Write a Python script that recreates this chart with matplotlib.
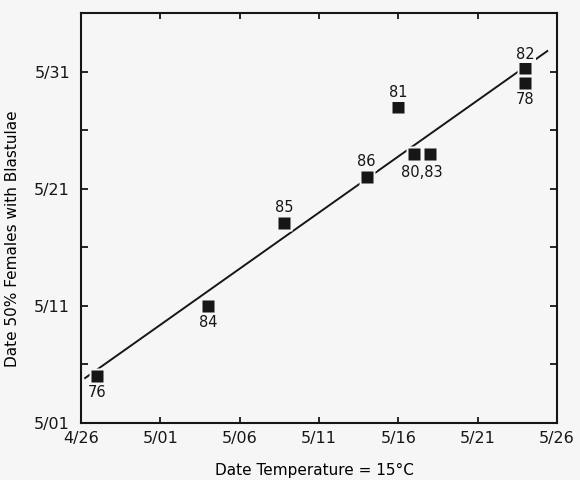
#!/usr/bin/env python

import numpy as np
import matplotlib as mpl
mpl.use('Agg')
import matplotlib.pyplot as plt

# date the water reached 15 C vs date 50% of females carried blastulae
# x: days after 4/26, y: days after 5/01
years = ['76', '84', '85', '86', '81', '80', '83', '78', '82']
temp_days = [1, 8, 12.8, 18, 20, 21, 22, 28, 28]
blast_days = [4, 10, 17.1, 21, 27, 23, 23, 29.0, 30.3]

# annotation text; "80,83" sits between the two points
point_labels = ['76', '84', '85', '86', '81', '80,83', '78', '82']

x_ticklabels = ['4/26', '5/01', '5/06', '5/11', '5/16', '5/21', '5/26']
y_ticklabels = ['5/01', '5/11', '5/21', '5/31']

# label offsets in points (placement only)
label_offsets = {'76': -12, '84': -12, '85': 11, '86': 11, '81': 10,
                 '80,83': -14, '78': -12, '82': 10}

BG = '#f6f6f6'
INK = '#161616'


def load_style():
    mpl.rc('font', family='DejaVu Sans', size=11.5)
    mpl.rc('axes', linewidth=1.5, edgecolor=INK, facecolor=BG)
    mpl.rc('figure', facecolor=BG)
    mpl.rc('xtick', direction='in', color=INK, top=True)
    mpl.rc('ytick', direction='in', color=INK, right=True)
    mpl.rc('xtick.major', size=4.5, width=1.3, pad=6)
    mpl.rc('ytick.major', size=5, width=1.3, pad=8)
    mpl.rc('ytick.minor', size=5, width=1.3)


def main():
    load_style()
    x = np.array(temp_days, dtype=float)
    y = np.array(blast_days, dtype=float)

    fig = plt.figure(figsize=(5.8, 4.8), dpi=100)
    ax = fig.add_axes([0.140, 0.119, 0.820, 0.854])

    # least-squares line, broken where it runs under points and labels
    slope, icpt = np.polyfit(x, y, 1)
    xl = np.array([0.25, 29.4])
    ax.plot(xl, slope * xl + icpt, color=INK, lw=1.4, zorder=2)

    ax.plot(x, y, 's', ms=11, color=BG, mec='none', zorder=3)
    ax.plot(x, y, 's', ms=8.3, color=INK, mec='none', zorder=4)

    for lab in point_labels:
        idx = [years.index(p) for p in lab.split(',')]
        px, py = x[idx].mean(), y[idx].mean()
        off = label_offsets[lab]
        ax.annotate(lab, (px, py), xytext=(0, off), textcoords='offset points',
                    ha='center', va='center', fontsize=10.5, color=INK, zorder=5,
                    bbox=dict(boxstyle='square,pad=0.1', fc=BG, ec='none'))

    ax.set_xlim(0, 30)
    ax.set_ylim(0, 35)
    ax.set_xticks(np.arange(0, 31, 5))
    ax.set_xticklabels(x_ticklabels)
    ax.set_yticks(np.arange(0, 31, 10))
    ax.set_yticklabels(y_ticklabels)
    ax.set_yticks(np.arange(5, 30, 10), minor=True)

    ax.set_xlabel('Date Temperature = 15°C', fontsize=11)
    ax.set_ylabel('Date 50% Females with Blastulae', fontsize=11)
    ax.xaxis.set_label_coords(0.49, -0.098)
    ax.yaxis.set_label_coords(-0.128, 0.45)

    fig.savefig('out.png', dpi=100, facecolor=BG)


if __name__ == '__main__':
    main()
